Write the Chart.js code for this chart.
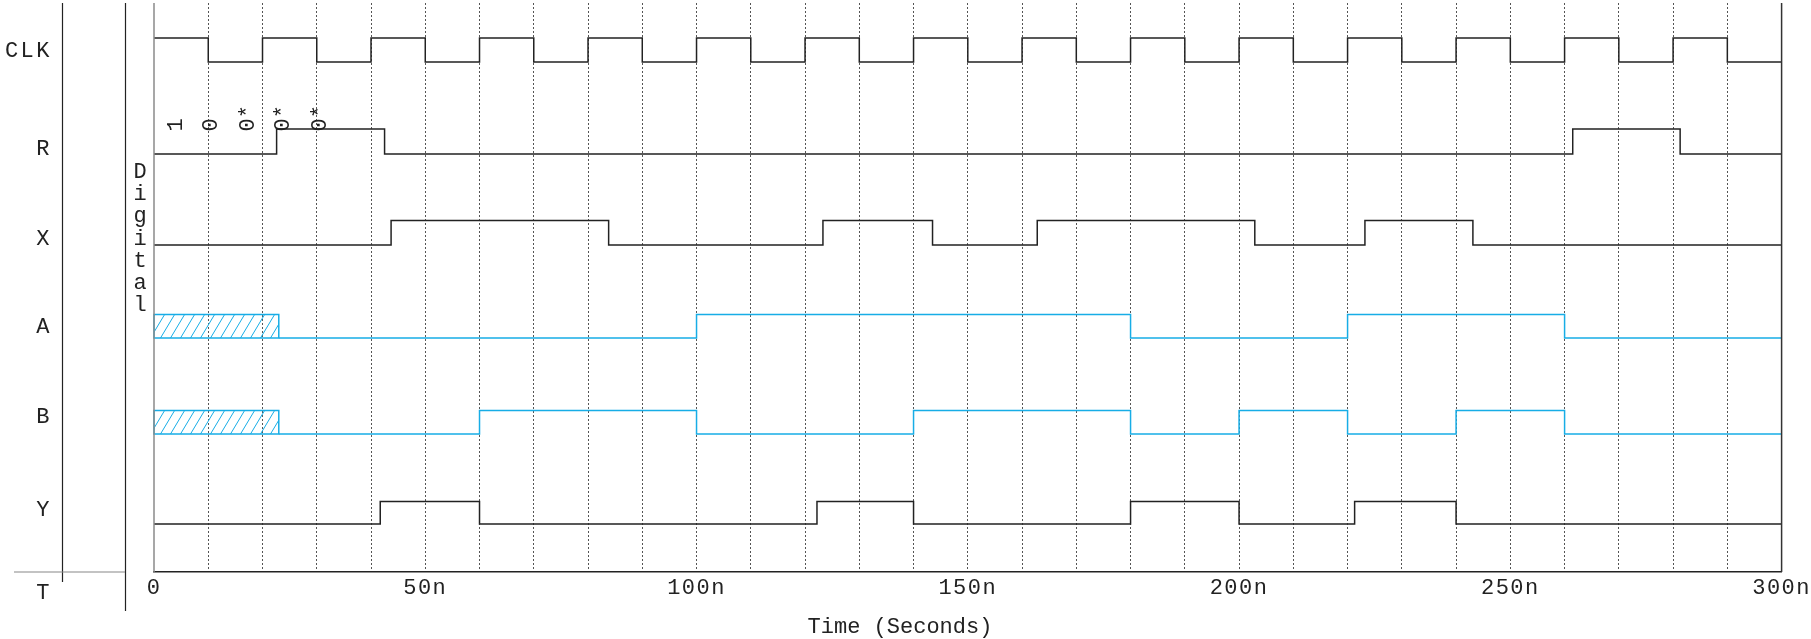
<!DOCTYPE html>
<html>
<head>
<meta charset="utf-8">
<script src="https://cdn.jsdelivr.net/npm/chart.js@4.4.0/dist/chart.umd.min.js"></script>
<style>
html, body { margin: 0; padding: 0; background: #fff; }
canvas { display: block; }
</style>
</head>
<body>
<canvas id="timing" width="1811" height="639"></canvas>
<script>
// Row labels (T is the time row)
const rowLabels = ['CLK', 'R', 'X', 'A', 'B', 'Y', 'T'];

// Edge times in ns and the level held after each edge
const clkTimes = [0, 10, 20, 30, 40, 50, 60, 70, 80, 90, 100, 110, 120, 130, 140, 150, 160, 170, 180, 190, 200, 210, 220, 230, 240, 250, 260, 270, 280, 290, 300];
const clkLevels = [1, 0, 1, 0, 1, 0, 1, 0, 1, 0, 1, 0, 1, 0, 1, 0, 1, 0, 1, 0, 1, 0, 1, 0, 1, 0, 1, 0, 1, 0, 0];

const rTimes = [0, 22.6, 42.5, 261.5, 281.3, 300];
const rLevels = [0, 1, 0, 1, 0, 0];

const xTimes = [0, 43.7, 83.8, 123.3, 143.5, 162.8, 202.9, 223.2, 243.1, 300];
const xLevels = [0, 1, 0, 1, 0, 1, 0, 1, 0, 0];

const aTimes = [23, 100, 180, 220, 260, 300];
const aLevels = [0, 1, 0, 1, 0, 0];
const aUnknown = [0, 23];

const bTimes = [23, 60, 100, 140, 180, 200, 220, 240, 260, 300];
const bLevels = [0, 1, 0, 1, 0, 1, 0, 1, 0, 0];
const bUnknown = [0, 23];

const yTimes = [0, 41.7, 60, 122.2, 140, 180, 200, 221.3, 240, 300];
const yLevels = [0, 1, 0, 1, 0, 1, 0, 1, 0, 0];

// stimulus notes above R
const rNotes = ['1', '0', '0*', '0*', '0*'];
const rNoteTimes = [5.1, 11.7, 18.4, 24.9, 31.7];

const tickValues = [0, 50, 100, 150, 200, 250, 300];
const tickLabels = ['0', '50n', '100n', '150n', '200n', '250n', '300n'];

// layout: pixel rows for low / high level of each trace
const ROW = {
    CLK: { lo: 62, hi: 38 },
    R:   { lo: 154, hi: 129 },
    X:   { lo: 245, hi: 220.5 },
    A:   { lo: 338, hi: 314.5 },
    B:   { lo: 434, hi: 410.5 },
    Y:   { lo: 524, hi: 501.5 }
};
const LABEL_BASE = [57, 155, 245, 333, 422.5, 516, 599];
const FONT = '"Liberation Mono", "DejaVu Sans Mono", monospace';
const INK = '#222';
const BLUE = '#17ade6';

function trace(name, times, levels, color) {
    const row = ROW[name];
    return {
        label: name,
        data: times.map((t, i) => ({ x: t, y: levels[i] ? row.hi : row.lo })),
        stepped: true,
        borderColor: color,
        borderWidth: 1.5,
        pointRadius: 0,
        fill: false
    };
}

function drawHatch(ctx, x0, x1, yTop, yBot) {
    const h = yBot - yTop;
    ctx.save();
    ctx.strokeStyle = BLUE;
    ctx.lineWidth = 1.5;
    ctx.strokeRect(x0, yTop, x1 - x0, h);
    ctx.beginPath();
    ctx.rect(x0, yTop, x1 - x0, h);
    ctx.clip();
    ctx.lineWidth = 1;
    ctx.beginPath();
    for (let x = x0 - h; x < x1 + h; x += 10) {
        ctx.moveTo(x, yBot);
        ctx.lineTo(x + h * 0.6, yTop);
    }
    ctx.stroke();
    ctx.restore();
}

const decor = {
    id: 'decor',
    beforeDraw(chart) {
        const ctx = chart.ctx;
        ctx.save();
        ctx.fillStyle = '#fff';
        ctx.fillRect(0, 0, chart.width, chart.height);
        ctx.restore();
        // tick labels are a little spread out in the original
        ctx.letterSpacing = '1.5px';
    },
    afterDraw(chart) {
        const ctx = chart.ctx;
        const xs = chart.scales.x, ys = chart.scales.y;
        const area = chart.chartArea;
        ctx.save();
        ctx.letterSpacing = '0px';

        // unknown-state boxes
        drawHatch(ctx, xs.getPixelForValue(aUnknown[0]), xs.getPixelForValue(aUnknown[1]), ys.getPixelForValue(ROW.A.hi), ys.getPixelForValue(ROW.A.lo));
        drawHatch(ctx, xs.getPixelForValue(bUnknown[0]), xs.getPixelForValue(bUnknown[1]), ys.getPixelForValue(ROW.B.hi), ys.getPixelForValue(ROW.B.lo));

        // plot frame sides
        ctx.lineWidth = 1.5;
        ctx.strokeStyle = '#8a8a8a';
        ctx.beginPath();
        ctx.moveTo(area.left, area.top);
        ctx.lineTo(area.left, area.bottom);
        ctx.stroke();
        ctx.strokeStyle = '#333';
        ctx.beginPath();
        ctx.moveTo(area.right, area.top);
        ctx.lineTo(area.right, area.bottom);
        ctx.stroke();

        // left label panel
        ctx.lineWidth = 1.2;
        ctx.strokeStyle = '#222';
        ctx.beginPath();
        ctx.moveTo(62.5, 3); ctx.lineTo(62.5, 582);
        ctx.moveTo(125.5, 3); ctx.lineTo(125.5, 611);
        ctx.stroke();
        ctx.strokeStyle = '#888';
        ctx.beginPath();
        ctx.moveTo(14, 572); ctx.lineTo(125, 572);
        ctx.stroke();

        ctx.fillStyle = INK;
        ctx.font = '22px ' + FONT;
        ctx.textAlign = 'right';
        ctx.textBaseline = 'alphabetic';
        ctx.letterSpacing = '2.5px';
        rowLabels.forEach((lab, i) => ctx.fillText(lab, 52, LABEL_BASE[i]));
        ctx.letterSpacing = '0px';

        // vertical "Digital"
        ctx.textAlign = 'center';
        'Digital'.split('').forEach((ch, i) => ctx.fillText(ch, 140, 178 + i * 22.2));

        // rotated notes on R
        rNotes.forEach((txt, i) => {
            ctx.save();
            ctx.translate(xs.getPixelForValue(rNoteTimes[i]), 131.5);
            ctx.rotate(-Math.PI / 2);
            ctx.textAlign = 'left';
            ctx.textBaseline = 'alphabetic';
            ctx.fillText(txt, 0, 0);
            ctx.restore();
        });

        // axis title
        ctx.textAlign = 'center';
        ctx.textBaseline = 'middle';
        ctx.fillText('Time (Seconds)', 900, 627);
        ctx.restore();
        ctx.letterSpacing = '0px';
    }
};

new Chart(document.getElementById('timing'), {
    type: 'line',
    data: {
        datasets: [
            trace('CLK', clkTimes, clkLevels, INK),
            trace('R', rTimes, rLevels, INK),
            trace('X', xTimes, xLevels, INK),
            trace('A', aTimes, aLevels, BLUE),
            trace('B', bTimes, bLevels, BLUE),
            trace('Y', yTimes, yLevels, INK)
        ]
    },
    options: {
        responsive: false,
        animation: false,
        devicePixelRatio: 1,
        layout: { padding: { left: 154, right: 29, top: 3, bottom: 0 } },
        plugins: { legend: { display: false }, tooltip: { enabled: false } },
        scales: {
            x: {
                type: 'linear',
                min: 0,
                max: 300,
                afterFit: s => { s.height = 67; },
                ticks: {
                    stepSize: 10,
                    autoSkip: false,
                    maxRotation: 0,
                    padding: 3,
                    color: INK,
                    font: { family: FONT, size: 22 },
                    callback: v => {
                        const i = tickValues.indexOf(v);
                        return i >= 0 ? tickLabels[i] : '';
                    }
                },
                grid: {
                    drawTicks: false,
                    lineWidth: 1,
                    color: c => (c.tick && (c.tick.value === 0 || c.tick.value === 300)) ? 'rgba(0,0,0,0)' : '#555'
                },
                border: { display: true, color: '#222', width: 1.5, dash: [2, 2] }
            },
            y: {
                type: 'linear',
                display: false,
                reverse: true,
                min: 3,
                max: 572
            }
        }
    },
    plugins: [decor]
});
</script>
</body>
</html>
